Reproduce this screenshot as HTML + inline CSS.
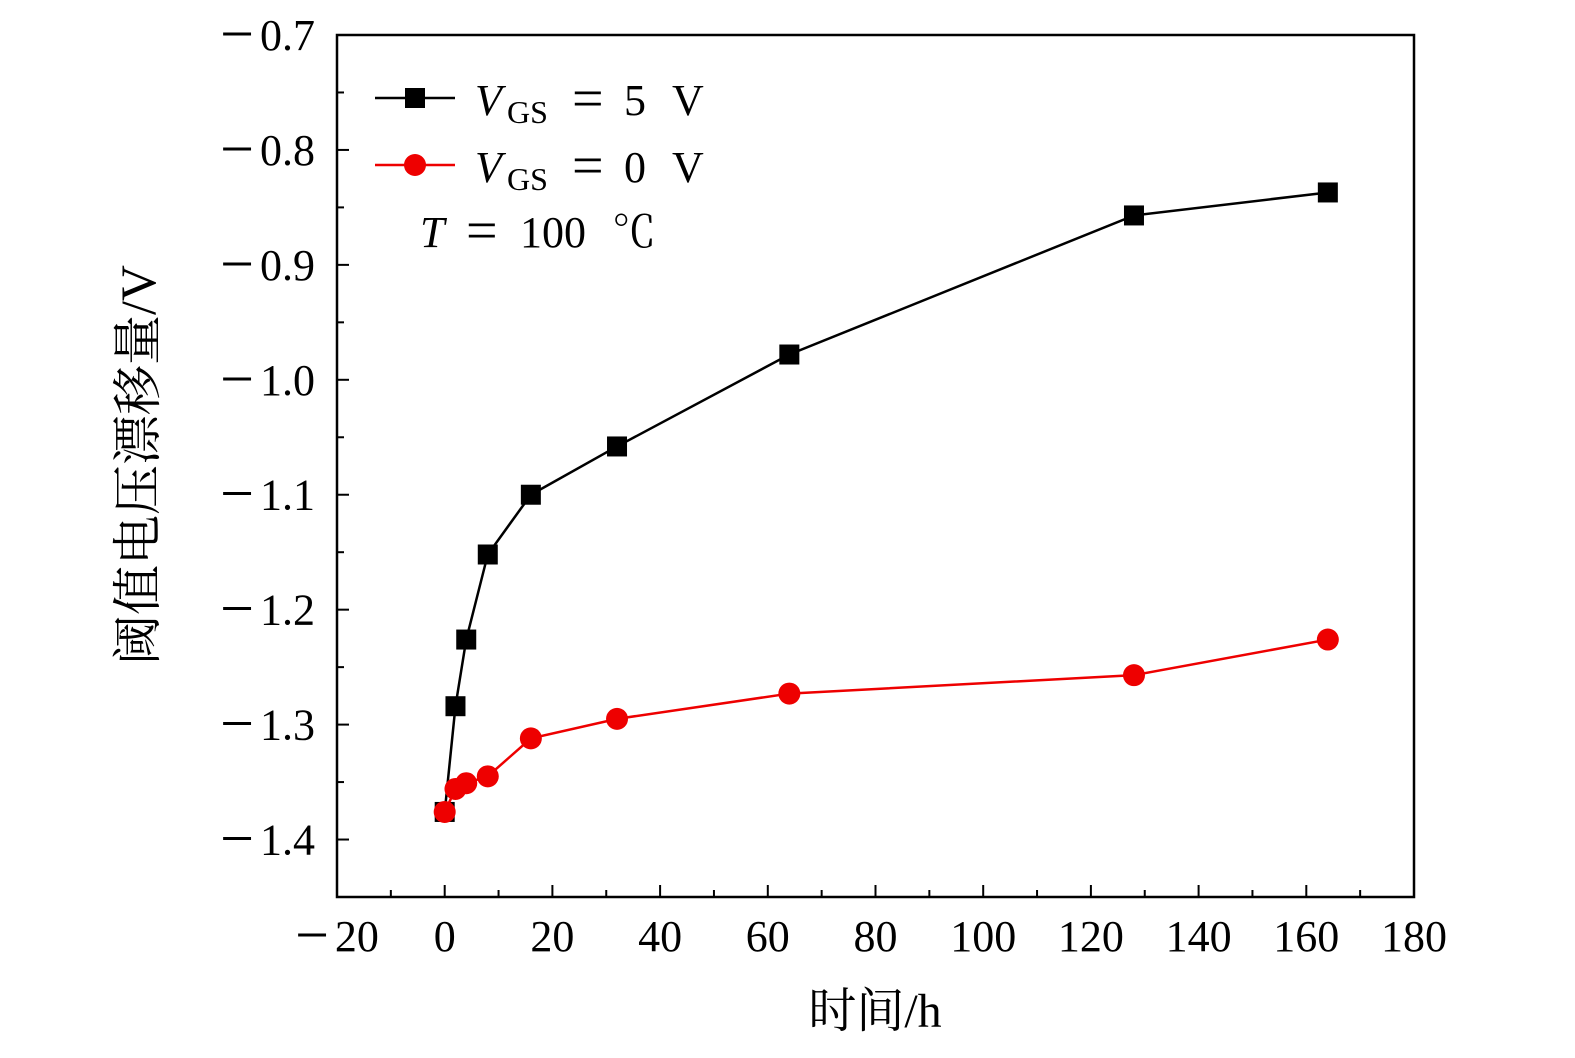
<!DOCTYPE html>
<html><head><meta charset="utf-8"><style>
html,body{margin:0;padding:0;background:#fff;}
svg text{font-family:"Liberation Serif","Noto Serif CJK SC",serif;}
</style></head><body>
<svg id="chart" width="1575" height="1053" xmlns="http://www.w3.org/2000/svg">
<g id="axes"></g>
<g id="series"></g>
<g>
  <line x1="375" y1="98" x2="455" y2="98" stroke="#000" stroke-width="2.5"/>
  <rect x="405" y="88" width="20" height="20" fill="#000"/>
  <text y="115" font-size="44"><tspan x="475" font-style="italic">V</tspan><tspan x="507" y="123" font-size="32">GS</tspan><tspan x="572" y="117" font-size="56">=</tspan><tspan x="624" y="115">5</tspan><tspan x="672">V</tspan></text>
  <line x1="375" y1="165" x2="455" y2="165" stroke="#e00" stroke-width="2.5"/>
  <circle cx="415" cy="165" r="11" fill="#e00"/>
  <text y="182" font-size="44"><tspan x="475" font-style="italic">V</tspan><tspan x="507" y="190" font-size="32">GS</tspan><tspan x="572" y="184" font-size="56">=</tspan><tspan x="624" y="182">0</tspan><tspan x="672">V</tspan></text>
  <text y="247" font-size="44"><tspan x="420" font-style="italic">T</tspan><tspan x="466" y="249" font-size="56">=</tspan><tspan x="520" y="247">100</tspan><tspan x="612">℃</tspan></text>
</g>
<text x="875" y="1027" font-size="48" text-anchor="middle">时间/h</text>
<text transform="translate(155,465) rotate(-90)" font-size="50" text-anchor="middle">阈值电压漂移量/V</text>
</svg>
<script>
const xValues = [0, 2, 4, 8, 16, 32, 64, 128, 164];
const vgs5 = [-1.376, -1.284, -1.226, -1.152, -1.100, -1.058, -0.978, -0.857, -0.837];
const vgs0 = [-1.376, -1.356, -1.351, -1.345, -1.312, -1.295, -1.273, -1.257, -1.226];
const xTicks = [-20, 0, 20, 40, 60, 80, 100, 120, 140, 160, 180];
const yTicks = [-0.7, -0.8, -0.9, -1.0, -1.1, -1.2, -1.3, -1.4];

const L=337,R=1414,T=35,B=897;
const X0=-20,X1=180,Y0=-0.7,Y1=-1.45;
const sx=v=>L+(v-X0)/(X1-X0)*(R-L);
const sy=v=>T+(v-Y0)/(Y1-Y0)*(B-T);
const NS="http://www.w3.org/2000/svg";
function mk(tag,attrs,parent){const e=document.createElementNS(NS,tag);for(const k in attrs)e.setAttribute(k,attrs[k]);parent.appendChild(e);return e;}
const axes=document.getElementById('axes'), series=document.getElementById('series');

let f=mk('rect',{x:L,y:T,width:R-L,height:B-T,fill:'none',stroke:'#000','stroke-width':2.5},axes);



function label(x,y,v,anchor,digits,name){
  const lb=mk('text',{x:x,y:y,'font-size':44,'text-anchor':anchor},axes);
  if(v<0){
    const m=mk('tspan',{'font-size':60,dy:4},lb); m.textContent='\u2212';
    const n=mk('tspan',{dx:6,dy:-4},lb); n.textContent=Math.abs(v).toFixed(digits);
  } else lb.textContent=v.toFixed(digits);
  
  
}

xTicks.forEach((v,i)=>{
  const x=sx(v);
  let t=mk('line',{x1:x,y1:B,x2:x,y2:B-12,stroke:'#000','stroke-width':2},axes);
  
  
  if(i<xTicks.length-1){const m=sx(v+10);
    let mt=mk('line',{x1:m,y1:B,x2:m,y2:B-7,stroke:'#000','stroke-width':2},axes);
    
    }
  label(x,B+54,v,'middle',0,'x-tick-label');
});
yTicks.forEach(v=>{
  const y=sy(v);
  let t=mk('line',{x1:L,y1:y,x2:L+12,y2:y,stroke:'#000','stroke-width':2},axes);
  
  
  const m=sy(v-0.05);
  let mt=mk('line',{x1:L,y1:m,x2:L+7,y2:m,stroke:'#000','stroke-width':2},axes);
  
  
  label(L-22,y+15,v,'end',1,'y-tick-label');
});

function draw(vals,color,shape,name){
  const pts=xValues.map((x,i)=>sx(x)+','+sy(vals[i])).join(' ');
  let pl=mk('polyline',{points:pts,fill:'none',stroke:color,'stroke-width':2.5},series);
  
  
  xValues.forEach((x,i)=>{
    let m;
    if(shape==='sq') m=mk('rect',{x:sx(x)-10,y:sy(vals[i])-10,width:20,height:20,fill:color},series);
    else m=mk('circle',{cx:sx(x),cy:sy(vals[i]),r:11,fill:color},series);
    
    
  });
}
draw(vgs5,'#000','sq','vgs5');
draw(vgs0,'#e00','ci','vgs0');
</script>
</body></html>
